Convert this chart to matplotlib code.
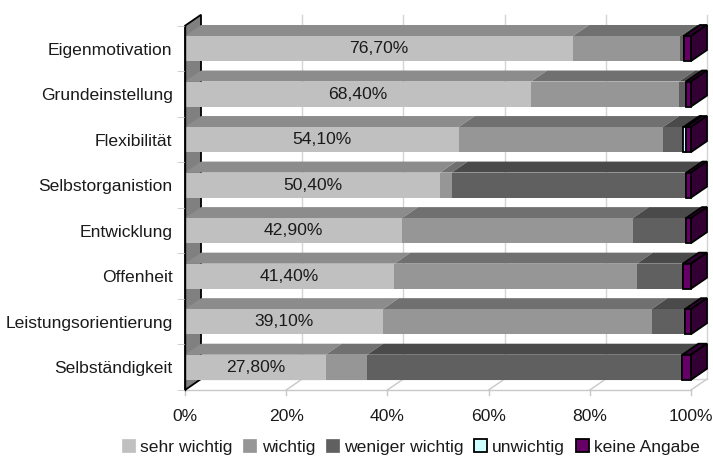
import matplotlib
matplotlib.use("Agg")
import matplotlib.pyplot as plt
from matplotlib.patches import Polygon, Patch
import numpy as np

plt.rcParams['font.family'] = ['Liberation Sans', 'DejaVu Sans']

categories = ["Eigenmotivation", "Grundeinstellung", "Flexibilität", "Selbstorganistion",
              "Entwicklung", "Offenheit", "Leistungsorientierung", "Selbständigkeit"]
sehr_wichtig = [76.7, 68.4, 54.1, 50.4, 42.9, 41.4, 39.1, 27.8]
wichtig = [21.2, 29.2, 40.4, 2.3, 45.6, 47.9, 53.1, 8.2]
weniger_wichtig = [0.7, 1.4, 4.0, 46.4, 10.5, 9.1, 6.6, 62.3]
unwichtig = [0.0, 0.0, 0.5, 0.0, 0.0, 0.0, 0.0, 0.0]
keine_angabe = [1.4, 1.0, 1.0, 0.9, 1.0, 1.6, 1.2, 1.7]
series_names = ["sehr wichtig", "wichtig", "weniger wichtig", "unwichtig", "keine Angabe"]
value_labels = ["76,70%", "68,40%", "54,10%", "50,40%", "42,90%", "41,40%", "39,10%", "27,80%"]
xticks = [0, 20, 40, 60, 80, 100]
xtick_labels = ["0%", "20%", "40%", "60%", "80%", "100%"]

front_colors = ["#c0c0c0", "#969696", "#606060", "#ccffff", "#660066"]
top_colors = ["#8c8c8c", "#707070", "#4a4a4a", "#99cccc", "#330033"]
edge_black = [False, False, False, True, True]

FS = 12.6
TXT = "#1a1a1a"

W, H = 713, 459
fig = plt.figure(figsize=(W / 100, H / 100), dpi=100)
ax = fig.add_axes([185 / W, (H - 390) / H, (691 - 185) / W, (390 - 25.75) / H])
ax.set_xlim(0, 100)
ax.set_ylim(7.5, -0.5)
ax.set_facecolor("none")
for s in ax.spines.values():
    s.set_visible(False)

DX = 16 / 5.06     # depth offset in % units
DY = 11 / 45.5     # depth offset in category units
hh = 0.275         # half bar height
n = len(categories)
ypos = np.arange(n)

series = np.array([sehr_wichtig, wichtig, weniger_wichtig, unwichtig, keine_angabe], dtype=float)
series = series / series.sum(axis=0) * 100

# back wall gridlines
for xv in xticks[1:]:
    ax.plot([xv + DX, xv + DX], [-0.5 - DY, 7.5 - DY], color="#d4d4d4", lw=1, zorder=0, clip_on=False)
# floor
for xv in xticks:
    ax.plot([xv, xv + DX], [7.5, 7.5 - DY], color="#c8c8c8", lw=1, zorder=0, clip_on=False)
    ax.plot([xv, xv], [7.5, 7.62], color="#c8c8c8", lw=1, zorder=0, clip_on=False)
ax.plot([0, 100], [7.5, 7.5], color="#c8c8c8", lw=1, zorder=0, clip_on=False)
ax.plot([DX, 100 + DX], [7.5 - DY, 7.5 - DY], color="#d4d4d4", lw=1, zorder=0, clip_on=False)

# left wall
wall = Polygon([(0, 7.5), (0, -0.5), (DX, -0.5 - DY), (DX, 7.5 - DY)], closed=True,
               facecolor="#808080", edgecolor="black", lw=1.3, zorder=1, clip_on=False)
ax.add_patch(wall)

left = np.zeros(n)
for k in range(len(series)):
    vals = series[k]
    lw = 1.3 if edge_black[k] else 0
    ax.barh(ypos, vals, left=left, height=2 * hh, color=front_colors[k],
            edgecolor="black" if edge_black[k] else "none", linewidth=lw, zorder=3, clip_on=False)
    for i in range(n):
        if vals[i] <= 0:
            continue
        l, r = left[i], left[i] + vals[i]
        yt = ypos[i] - hh
        top = Polygon([(l, yt), (r, yt), (r + DX, yt - DY), (l + DX, yt - DY)], closed=True,
                      facecolor=top_colors[k], edgecolor="black" if edge_black[k] else "none",
                      lw=lw, zorder=2, clip_on=False)
        ax.add_patch(top)
    left = left + vals

# right side faces of last segment
for i in range(n):
    r = left[i]
    yt, yb = ypos[i] - hh, ypos[i] + hh
    side = Polygon([(r, yt), (r + DX, yt - DY), (r + DX, yb - DY), (r, yb)], closed=True,
                   facecolor="#330033", edgecolor="black", lw=1.3, zorder=4, clip_on=False)
    ax.add_patch(side)

# axis line
ax.plot([0, 0], [-0.5, 7.5], color="black", lw=1, zorder=6, clip_on=False)

# value labels
for i in range(n):
    ax.text(series[0][i] / 2, ypos[i], value_labels[i], ha="center", va="center",
            fontsize=FS, color=TXT, zorder=7)

ax.set_yticks(ypos)
ax.set_yticklabels(categories, fontsize=FS, color=TXT)
ax.set_yticks(np.arange(n + 1) - 0.5, minor=True)
ax.tick_params(axis="y", which="major", length=0, pad=9)
ax.tick_params(axis="y", which="minor", length=6, color="#c8c8c8")
ax.set_xticks(xticks)
ax.set_xticklabels(xtick_labels, fontsize=FS, color=TXT)
ax.tick_params(axis="x", length=0, pad=14)

handles = []
for k in range(len(series_names)):
    handles.append(Patch(facecolor=front_colors[k],
                         edgecolor="black" if edge_black[k] else front_colors[k],
                         lw=1.3 if edge_black[k] else 0.5))
fig.legend(handles, series_names, loc="center", bbox_to_anchor=(411 / W, 1 - 447 / H),
           ncol=5, frameon=False, fontsize=FS, handlelength=0.75, handleheight=0.75,
           handletextpad=0.3, columnspacing=0.6, borderpad=0, labelcolor=TXT)

fig.savefig("out.png", dpi=100)
